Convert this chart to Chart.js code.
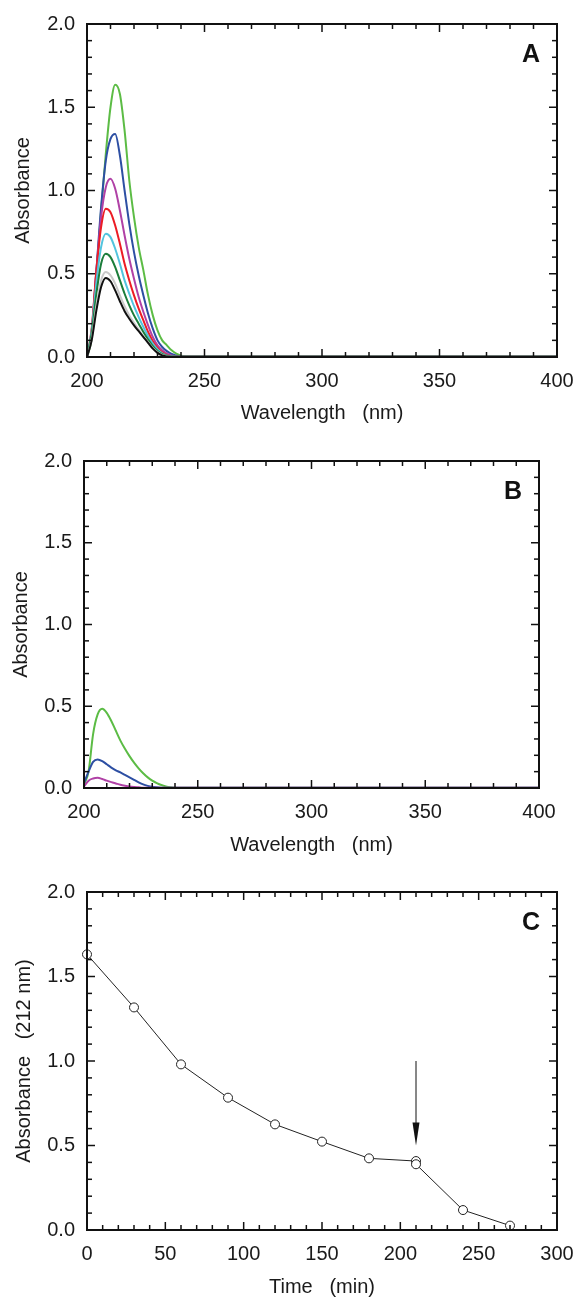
<!DOCTYPE html>
<html>
<head>
<meta charset="utf-8">
<script src="https://cdn.jsdelivr.net/npm/chart.js@4.4.1/dist/chart.umd.min.js"></script>
<style>
  body { margin: 0; background: #fff; }
  #wrap { position: relative; width: 586px; height: 1301px; }
  canvas { position: absolute; left: 0; }
</style>
</head>
<body>
<div id="wrap">
  <canvas id="chartA" width="586" height="430" style="top:0px"></canvas>
  <canvas id="chartB" width="586" height="430" style="top:430px"></canvas>
  <canvas id="chartC" width="586" height="441" style="top:860px"></canvas>
</div>
<script>

// ==========================
// DATA
// ==========================

const wavelength = [200, 202, 204, 206, 208, 210, 212, 214, 216, 218, 220, 222, 224, 226, 228, 230, 232, 234, 236, 238, 240, 242, 245, 250, 275, 300, 325, 350, 375, 400];

// panel A spectra
const specA_green   = [0, 0.12, 0.49, 0.88, 1.22, 1.50, 1.635, 1.58, 1.36, 1.06, 0.84, 0.66, 0.52, 0.37, 0.25, 0.16, 0.10, 0.07, 0.04, 0.02, 0.008, 0.004, 0.003, 0.003, 0.003, 0.003, 0.003, 0.003, 0.003, 0.003];
const specA_blue    = [0, 0.14, 0.52, 0.90, 1.18, 1.31, 1.34, 1.21, 1.00, 0.80, 0.63, 0.49, 0.37, 0.26, 0.17, 0.10, 0.06, 0.035, 0.018, 0.008, 0.003, 0.002, 0.002, 0.002, 0.002, 0.002, 0.002, 0.002, 0.002, 0.002];
const specA_magenta = [0, 0.16, 0.52, 0.84, 1.02, 1.07, 1.01, 0.88, 0.73, 0.59, 0.47, 0.36, 0.27, 0.19, 0.12, 0.07, 0.04, 0.02, 0.009, 0.003, 0.001, 0.001, 0.001, 0.001, 0.001, 0.001, 0.001, 0.001, 0.001, 0.001];
const specA_red     = [0, 0.17, 0.52, 0.78, 0.89, 0.87, 0.79, 0.68, 0.56, 0.46, 0.37, 0.29, 0.22, 0.15, 0.095, 0.055, 0.028, 0.013, 0.005, 0.002, 0.001, 0.001, 0.001, 0.001, 0.001, 0.001, 0.001, 0.001, 0.001, 0.001];
const specA_cyan    = [0, 0.16, 0.45, 0.66, 0.74, 0.72, 0.65, 0.56, 0.46, 0.38, 0.305, 0.24, 0.18, 0.125, 0.08, 0.045, 0.022, 0.01, 0.004, 0.001, 0.001, 0.001, 0.001, 0.001, 0.001, 0.001, 0.001, 0.001, 0.001, 0.001];
const specA_dkgreen = [0, 0.14, 0.38, 0.56, 0.62, 0.60, 0.54, 0.46, 0.38, 0.31, 0.25, 0.20, 0.15, 0.105, 0.065, 0.036, 0.017, 0.007, 0.002, 0.001, 0.001, 0.001, 0.001, 0.001, 0.001, 0.001, 0.001, 0.001, 0.001, 0.001];
const specA_gray    = [0, 0.11, 0.31, 0.46, 0.51, 0.49, 0.44, 0.37, 0.305, 0.25, 0.205, 0.165, 0.125, 0.09, 0.055, 0.03, 0.013, 0.005, 0.001, 0.001, 0.001, 0.001, 0.001, 0.001, 0.001, 0.001, 0.001, 0.001, 0.001, 0.001];
const specA_black   = [0, 0.10, 0.28, 0.42, 0.475, 0.455, 0.40, 0.335, 0.275, 0.23, 0.19, 0.155, 0.12, 0.085, 0.05, 0.025, 0.01, 0.003, 0.001, 0.001, 0.001, 0.001, 0.001, 0.001, 0.001, 0.001, 0.001, 0.001, 0.001, 0.001];

// panel B spectra
const specB_green   = [0.02, 0.10, 0.33, 0.45, 0.485, 0.46, 0.41, 0.35, 0.29, 0.24, 0.195, 0.155, 0.12, 0.09, 0.065, 0.045, 0.03, 0.018, 0.01, 0.005, 0.002, 0.001, 0.001, 0.001, 0.001, 0.001, 0.001, 0.001, 0.001, 0.001];
const specB_blue    = [0.03, 0.10, 0.16, 0.175, 0.165, 0.145, 0.125, 0.108, 0.095, 0.08, 0.065, 0.05, 0.035, 0.022, 0.013, 0.007, 0.004, 0.002, 0.001, 0.001, 0.001, 0.001, 0.001, 0.001, 0.001, 0.001, 0.001, 0.001, 0.001, 0.001];
const specB_magenta = [0.01, 0.045, 0.058, 0.062, 0.055, 0.045, 0.036, 0.028, 0.02, 0.014, 0.009, 0.006, 0.004, 0.002, 0.001, 0.001, 0.001, 0.001, 0.001, 0.001, 0.001, 0.001, 0.001, 0.001, 0.001, 0.001, 0.001, 0.001, 0.001, 0.001];

// panel C time course
const timeMin   = [0, 30, 60, 90, 120, 150, 180, 210, 210, 240, 270];
const abs212    = [1.631, 1.317, 0.980, 0.783, 0.625, 0.523, 0.424, 0.408, 0.389, 0.118, 0.026];

// arrow in panel C (data units)
const arrowX = 210;
const arrowFrom = 1.0;
const arrowTo = 0.5;

// ticks
const wlTicks = [200, 250, 300, 350, 400];
const timeTicks = [0, 50, 100, 150, 200, 250, 300];
const absTicks = [0, 0.5, 1.0, 1.5, 2.0];


// ==========================
// PLUGINS
// ==========================

const frameTicks = {
    id: "frameTicks",
    afterDatasetsDraw(chart, args, opts) {
        const { ctx, chartArea: a, scales } = chart;
        ctx.save();
        ctx.strokeStyle = "#111";
        ctx.lineWidth = 1.5;
        const seg = (x1, y1, x2, y2) => {
            ctx.beginPath(); ctx.moveTo(x1, y1); ctx.lineTo(x2, y2); ctx.stroke();
        };
        const xs = scales.x, ys = scales.y;
        for (let v = xs.min; v <= xs.max + 1e-6; v += opts.xMinor) {
            const px = xs.getPixelForValue(v);
            const major = Math.abs(((v - xs.min) % opts.xMajor)) < 1e-6;
            const len = major ? 8 : 5;
            seg(px, a.bottom, px, a.bottom - len);
            seg(px, a.top, px, a.top + len);
        }
        for (let i = 0; i <= 20; i++) {
            const v = i / 10;
            const py = ys.getPixelForValue(v);
            const len = i % 5 === 0 ? 8 : 5;
            seg(a.left, py, a.left + len, py);
            seg(a.right, py, a.right - len, py);
        }
        ctx.lineWidth = 2;
        ctx.strokeRect(a.left, a.top, a.right - a.left, a.bottom - a.top);
        ctx.fillStyle = "#111";
        ctx.font = "bold 25px 'Liberation Sans', Arial, sans-serif";
        ctx.textAlign = "center";
        ctx.textBaseline = "middle";
        ctx.fillText(opts.letter, a.right - 26, a.top + 31);
        ctx.restore();
    }
};

const arrowMark = {
    id: "arrowMark",
    afterDatasetsDraw(chart, args, opts) {
        if (!opts.show) return;
        const { ctx, scales } = chart;
        const x = scales.x.getPixelForValue(arrowX);
        const y1 = scales.y.getPixelForValue(arrowFrom);
        const y2 = scales.y.getPixelForValue(arrowTo);
        ctx.save();
        ctx.strokeStyle = "#111";
        ctx.fillStyle = "#111";
        ctx.lineWidth = 1;
        ctx.beginPath(); ctx.moveTo(x, y1); ctx.lineTo(x, y2 - 20); ctx.stroke();
        ctx.beginPath();
        ctx.moveTo(x - 3.5, y2 - 23);
        ctx.lineTo(x + 3.5, y2 - 23);
        ctx.lineTo(x, y2);
        ctx.closePath();
        ctx.fill();
        ctx.restore();
    }
};

Chart.defaults.font.family = "'Liberation Sans', Arial, sans-serif";
Chart.defaults.font.size = 20;
Chart.defaults.color = "#1a1a1a";


// ==========================
// CHART BUILDER
// ==========================

function toPoints(xs, ys) {
    return xs.map((x, i) => ({ x: x, y: ys[i] }));
}

function spectrum(ys, color) {
    return {
        data: toPoints(wavelength, ys),
        borderColor: color,
        borderWidth: 2,
        pointRadius: 0,
        cubicInterpolationMode: "monotone",
        clip: 3
    };
}

function buildChart(id, datasets, p) {
    return new Chart(document.getElementById(id), {
        type: "line",
        data: { datasets: datasets },
        options: {
            responsive: false,
            animation: false,
            layout: {
                padding: { top: p.top, right: p.right, left: 0, bottom: 0 }
            },
            plugins: {
                legend: { display: false },
                tooltip: { enabled: false },
                frameTicks: { letter: p.letter, xMinor: 10, xMajor: 50 },
                arrowMark: { show: !!p.arrow }
            },
            scales: {
                x: {
                    type: "linear",
                    min: p.xMin,
                    max: p.xMax,
                    grid: { display: false, drawTicks: false },
                    border: { display: false },
                    afterBuildTicks: s => { s.ticks = p.xTicks.map(v => ({ value: v })); },
                    afterFit: s => { s.height = p.xHeight; },
                    ticks: { padding: 12, maxRotation: 0, callback: v => String(v) },
                    title: { display: true, text: p.xTitle, padding: { top: 0, bottom: p.xTitlePad } }
                },
                y: {
                    min: 0,
                    max: 2,
                    grid: { display: false, drawTicks: false },
                    border: { display: false },
                    afterBuildTicks: s => { s.ticks = absTicks.map(v => ({ value: v })); },
                    afterFit: s => { s.width = p.left; },
                    ticks: { padding: 12, callback: v => v.toFixed(1) },
                    title: { display: true, text: p.yTitle, padding: { top: p.yTitlePad, bottom: 0 } }
                }
            }
        },
        plugins: [frameTicks, arrowMark]
    });
}


// ==========================
// PANELS
// ==========================

buildChart("chartA", [
    spectrum(specA_black, "#111111"),
    spectrum(specA_gray, "#c9c9c9"),
    spectrum(specA_dkgreen, "#1b7d3a"),
    spectrum(specA_cyan, "#52c4de"),
    spectrum(specA_red, "#ec1c24"),
    spectrum(specA_magenta, "#b041a6"),
    spectrum(specA_blue, "#2d4fa3"),
    spectrum(specA_green, "#5cbc45")
], {
    letter: "A", top: 18, right: 29, left: 87, xHeight: 73,
    xMin: 200, xMax: 400, xTicks: wlTicks,
    xTitle: "Wavelength   (nm)", xTitlePad: 5,
    yTitle: "Absorbance", yTitlePad: 11
});

buildChart("chartB", [
    spectrum(specB_magenta, "#b041a6"),
    spectrum(specB_blue, "#2d4fa3"),
    spectrum(specB_green, "#5cbc45")
], {
    letter: "B", top: 31, right: 47, left: 84, xHeight: 72,
    xMin: 200, xMax: 400, xTicks: wlTicks,
    xTitle: "Wavelength   (nm)", xTitlePad: 3,
    yTitle: "Absorbance", yTitlePad: 9
});

buildChart("chartC", [{
    data: toPoints(timeMin, abs212),
    borderColor: "#222",
    borderWidth: 1,
    pointRadius: 4.5,
    pointBorderWidth: 1,
    pointBackgroundColor: "#fff",
    pointBorderColor: "#222",
    tension: 0,
    clip: 6
}], {
    letter: "C", top: 32, right: 29, left: 87, xHeight: 71, arrow: true,
    xMin: 0, xMax: 300, xTicks: timeTicks,
    xTitle: "Time   (min)", xTitlePad: 2,
    yTitle: "Absorbance   (212 nm)", yTitlePad: 12
});

</script>
</body>
</html>
